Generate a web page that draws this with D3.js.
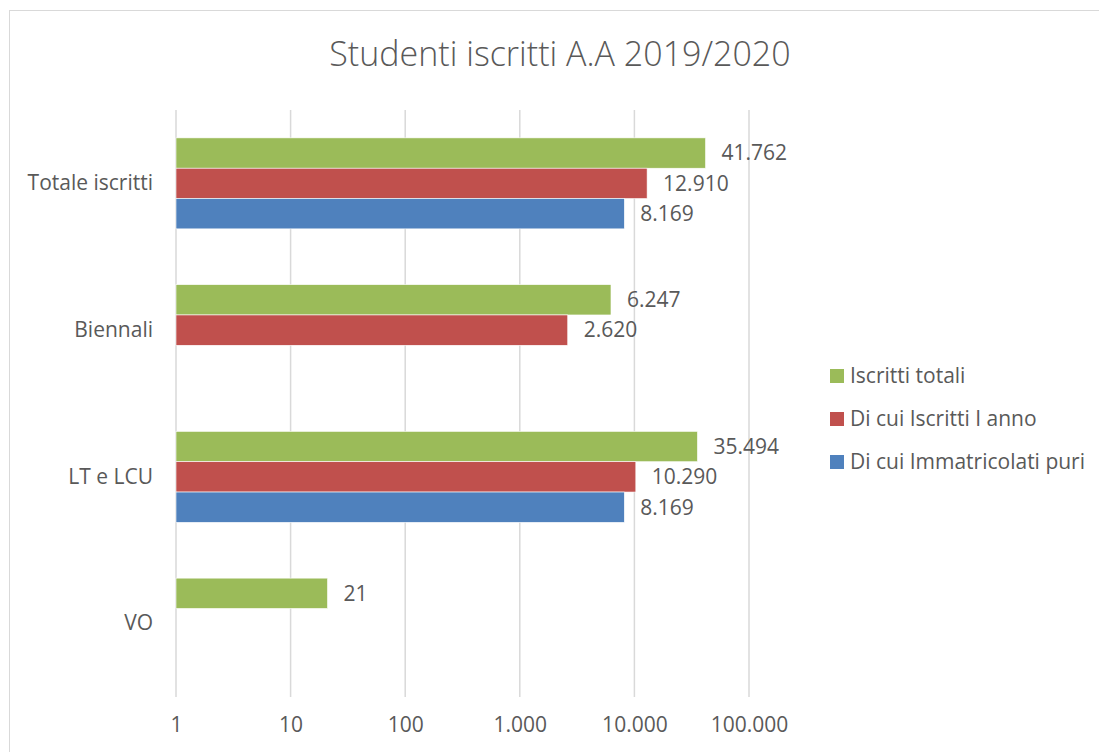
<!DOCTYPE html>
<html>
<head>
<meta charset="utf-8">
<script src="https://cdn.jsdelivr.net/npm/d3@7"></script>
<style>
  body { margin: 0; background: #fff; }
  text { font-family: "Open Sans", sans-serif; fill: #595959; }
</style>
</head>
<body>
<svg></svg>
<script>
const categories = ['Totale iscritti', 'Biennali', 'LT e LCU', 'VO'];
const series = ['Iscritti totali', 'Di cui Iscritti I anno', 'Di cui Immatricolati puri'];
const iscrittiTotali = [41762, 6247, 35494, 21];
const iscrittiIAnno = [12910, 2620, 10290, null];
const immatricolatiPuri = [8169, null, 8169, null];
const tickValues = [1, 10, 100, 1000, 10000, 100000];
const colors = ['#9BBB59', '#C0504D', '#4F81BD'];

const width = 1099;
const height = 752;
const values = [iscrittiTotali, iscrittiIAnno, immatricolatiPuri];
const fmt = d3.formatLocale({ decimal: ',', thousands: '.', grouping: [3], currency: ['', ''] }).format(',d');

const svg = d3.select('svg')
  .attr('width', width)
  .attr('height', height);

// chart border
svg.append('rect')
  .attr('x', 9.5).attr('y', 10.5)
  .attr('width', 1100).attr('height', 760)
  .attr('fill', 'none')
  .attr('stroke', '#D9D9D9');

svg.append('text')
  .attr('x', 560).attr('y', 66)
  .attr('text-anchor', 'middle')
  .style('font-size', '34px')
  .style('font-weight', 300)
  .text('Studenti iscritti A.A 2019/2020');

const x = d3.scaleLog().domain([1, 100000]).range([176, 749]);
const y = d3.scaleBand().domain(categories).range([110, 697]).paddingInner(0.38).paddingOuter(0.19);
const ySub = d3.scaleBand().domain([0, 1, 2]).range([0, y.bandwidth()]);

// gridlines
svg.append('g')
  .selectAll('line')
  .data(tickValues)
  .enter().append('line')
  .attr('x1', d => x(d)).attr('x2', d => x(d))
  .attr('y1', 110).attr('y2', 697)
  .attr('stroke', '#D9D9D9')
  .attr('stroke-width', 1.5);

const xAxis = svg.append('g')
  .attr('transform', 'translate(0,697)')
  .call(d3.axisBottom(x).tickValues(tickValues).tickFormat(fmt).tickSize(0).tickPadding(20));
xAxis.select('.domain').remove();
xAxis.selectAll('text').style('font-size', '21px').attr('fill', '#595959');

const yAxis = svg.append('g')
  .attr('transform', 'translate(153,0)')
  .call(d3.axisLeft(y).tickSize(0).tickPadding(0));
yAxis.select('.domain').remove();
yAxis.selectAll('text').style('font-size', '21px').attr('fill', '#595959');

const bars = [];
categories.forEach((c, i) => {
  values.forEach((s, j) => {
    if (s[i] != null) bars.push({ cat: c, s: j, v: s[i] });
  });
});

svg.append('g')
  .selectAll('rect')
  .data(bars)
  .enter().append('rect')
  .attr('x', x(1))
  .attr('y', d => y(d.cat) + ySub(d.s))
  .attr('width', d => x(d.v) - x(1))
  .attr('height', ySub.bandwidth())
  .attr('fill', d => colors[d.s])
  .attr('stroke', '#fff')
  .attr('stroke-width', 0.6);

svg.append('g')
  .selectAll('text')
  .data(bars)
  .enter().append('text')
  .attr('x', d => x(d.v) + 16)
  .attr('y', d => y(d.cat) + ySub(d.s) + ySub.bandwidth() / 2)
  .attr('dy', '0.35em')
  .style('font-size', '21px')
  .text(d => fmt(d.v));

const legend = svg.append('g')
  .selectAll('g')
  .data(series)
  .enter().append('g')
  .attr('transform', (d, i) => `translate(830,${376 + i * 43})`);

legend.append('rect')
  .attr('x', 0).attr('y', -7)
  .attr('width', 14).attr('height', 14)
  .attr('fill', (d, i) => colors[i]);

legend.append('text')
  .attr('x', 20).attr('dy', '0.35em')
  .style('font-size', '21px')
  .text(d => d);
</script>
</body>
</html>
